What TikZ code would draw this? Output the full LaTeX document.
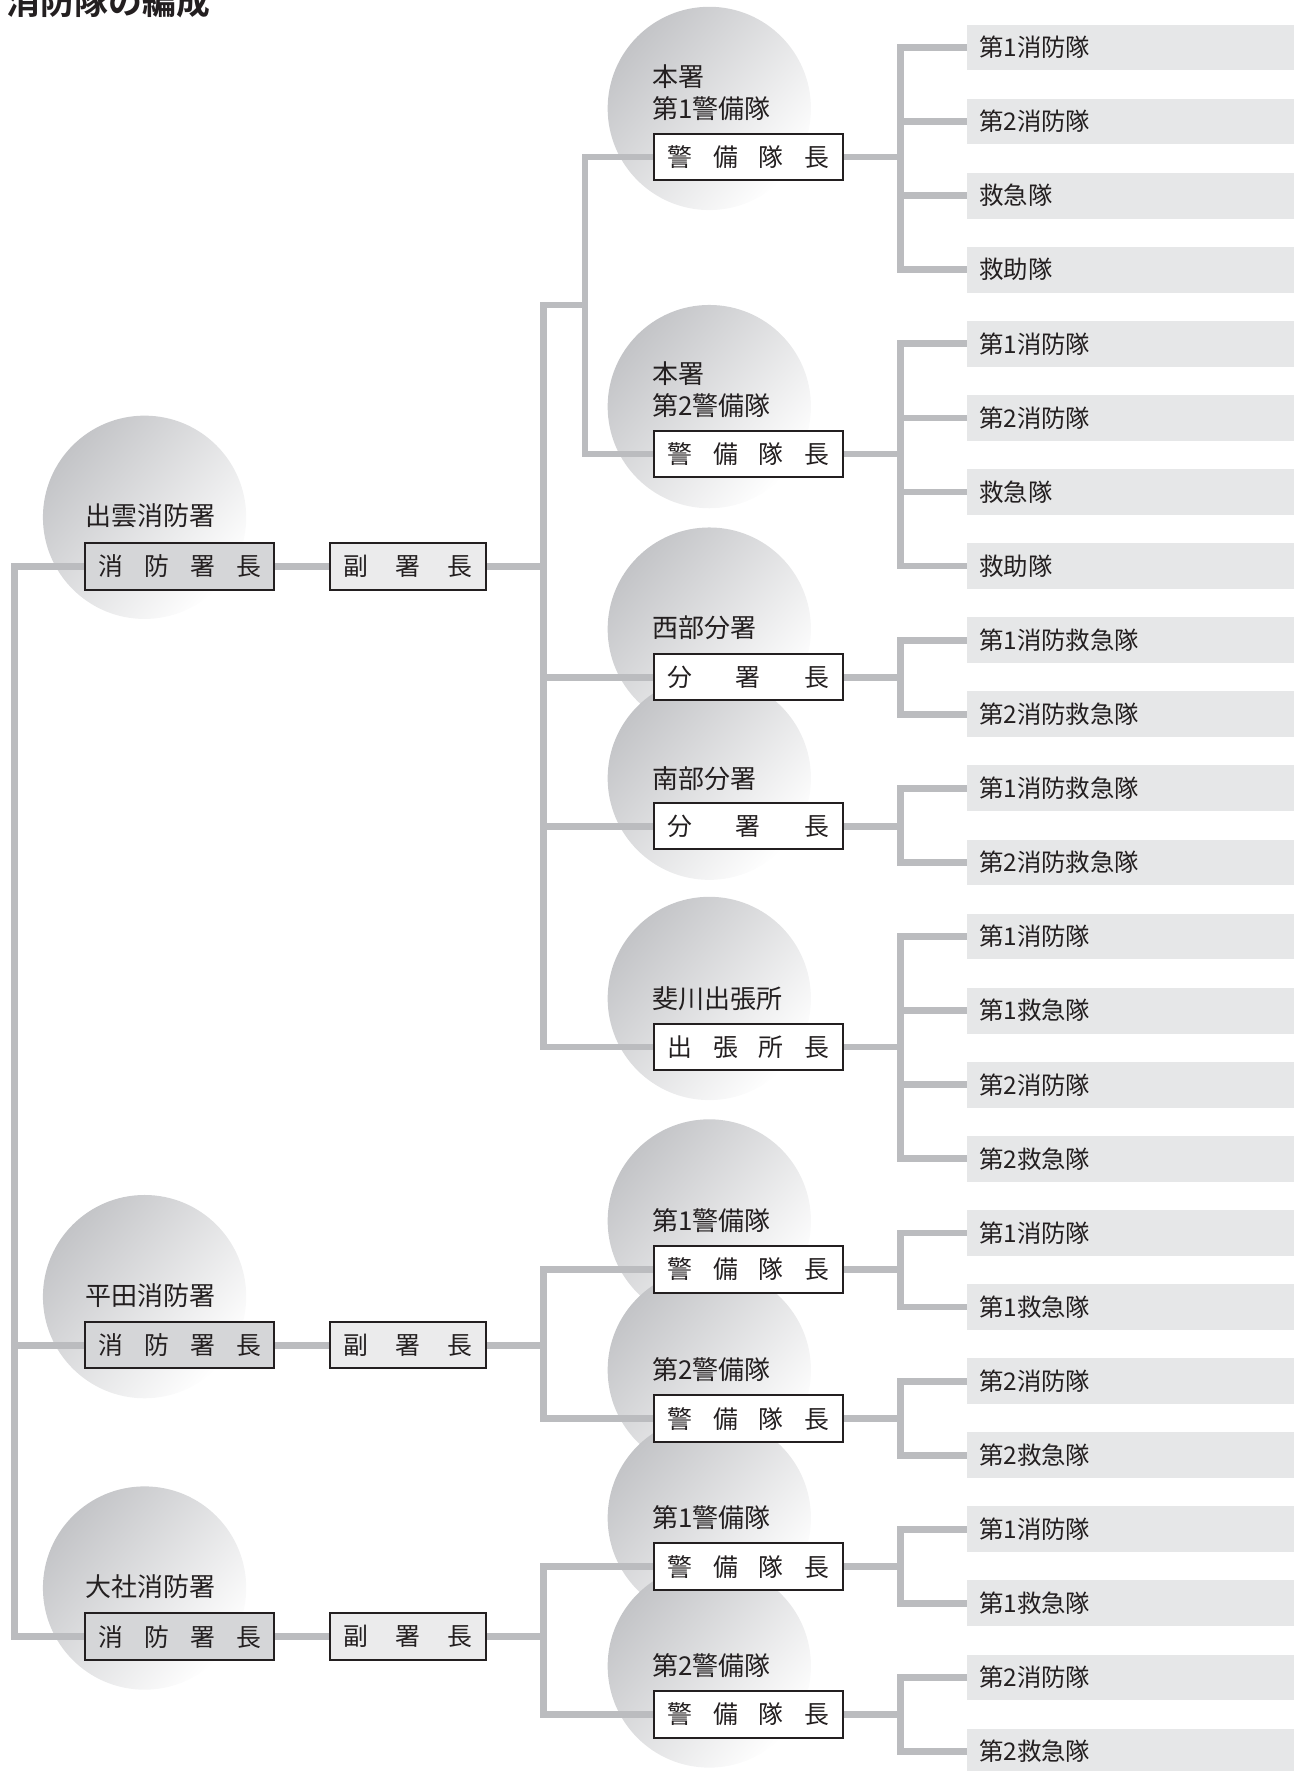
\documentclass[tikz,border=0pt]{standalone}
\usepackage{fontspec}
\setmainfont{Noto Sans CJK JP}[BoldFont={Noto Sans CJK JP Bold}]
\usetikzlibrary{positioning}

\definecolor{ink}{HTML}{231F20}
\definecolor{wire}{HTML}{BBBCBF}
\definecolor{discgray}{HTML}{C3C4C7}
\definecolor{bossfill}{HTML}{D5D6D8}
\definecolor{deputyfill}{HTML}{EBEBEC}
\definecolor{unitfill}{HTML}{E6E7E8}

\pgfdeclarelayer{discs}
\pgfdeclarelayer{wires}
\pgfsetlayers{discs,wires,main}

\tikzset{
  link/.style={draw=wire, line width=3pt, line cap=rect},
  disc/.style={top color=discgray, bottom color=white, shading angle=50},
  tag/.style={anchor=west, inner sep=0pt, text=ink, font=\fontsize{11.5pt}{14pt}\selectfont},
  post/.style={draw=ink, line width=0.9pt, fill=white, text=ink, minimum height=20.5pt,
    inner xsep=6pt, inner ysep=0pt, text width=71.5pt, font=\fontsize{11pt}{12pt}\selectfont},
  boss/.style={post, fill=bossfill, text width=72pt},
  deputy/.style={post, fill=deputyfill, text width=57pt},
  unit/.style={fill=unitfill, text=ink, minimum height=20.3pt, inner xsep=5.5pt, inner ysep=0pt,
    text width=134pt, align=left, font=\fontsize{10.8pt}{12pt}\selectfont},
}

\begin{document}
\begin{tikzpicture}[x=0.5pt, y=-0.5pt]
  \useasboundingbox (0,0) rectangle (1149,1568);

  \node[anchor=base west, inner sep=0pt, text=ink, font=\bfseries\fontsize{15pt}{18pt}\selectfont]
    (title) at (5.5,12.5) {消防隊の編成};

  % stations
  \node[tag] (izumotag) at (75,457) {出雲消防署};
  \node[boss] (izumo) at (159,501.5) {消\hfill 防\hfill 署\hfill 長};
  \node[deputy] (izumodep) at (361,501.5) {副\hfill 署\hfill 長};

  \node[tag] (hiratatag) at (75,1147) {平田消防署};
  \node[boss] (hirata) at (159,1191) {消\hfill 防\hfill 署\hfill 長};
  \node[deputy] (hiratadep) at (361,1191) {副\hfill 署\hfill 長};

  \node[tag] (taishatag) at (75,1405) {大社消防署};
  \node[boss] (taisha) at (159,1449) {消\hfill 防\hfill 署\hfill 長};
  \node[deputy] (taishadep) at (361,1449) {副\hfill 署\hfill 長};

  % squads
  \node[tag, align=left] (hon1tag) at (577,82) {本署\\第1警備隊};
  \node[post] (hon1) at (662.5,139) {警\hfill 備\hfill 隊\hfill 長};
  \node[tag, align=left] (hon2tag) at (577,345) {本署\\第2警備隊};
  \node[post] (hon2) at (662.5,402) {警\hfill 備\hfill 隊\hfill 長};
  \node[tag] (seibutag) at (577,556) {西部分署};
  \node[post] (seibu) at (662.5,599.5) {分\hfill 署\hfill 長};
  \node[tag] (nanbutag) at (577,689) {南部分署};
  \node[post] (nanbu) at (662.5,731.5) {分\hfill 署\hfill 長};
  \node[tag] (hikawatag) at (577,884) {斐川出張所};
  \node[post] (hikawa) at (662.5,927) {出\hfill 張\hfill 所\hfill 長};
  \node[tag] (hira1tag) at (577,1081) {第1警備隊};
  \node[post] (hira1) at (662.5,1124) {警\hfill 備\hfill 隊\hfill 長};
  \node[tag] (hira2tag) at (577,1213) {第2警備隊};
  \node[post] (hira2) at (662.5,1256) {警\hfill 備\hfill 隊\hfill 長};
  \node[tag] (tai1tag) at (577,1344) {第1警備隊};
  \node[post] (tai1) at (662.5,1387) {警\hfill 備\hfill 隊\hfill 長};
  \node[tag] (tai2tag) at (577,1475) {第2警備隊};
  \node[post] (tai2) at (662.5,1518) {警\hfill 備\hfill 隊\hfill 長};

  % units
  \foreach \txt [count=\i] in {第1消防隊, 第2消防隊, 救急隊, 救助隊,
      第1消防隊, 第2消防隊, 救急隊, 救助隊,
      第1消防救急隊, 第2消防救急隊, 第1消防救急隊, 第2消防救急隊,
      第1消防隊, 第1救急隊, 第2消防隊, 第2救急隊,
      第1消防隊, 第1救急隊, 第2消防隊, 第2救急隊,
      第1消防隊, 第1救急隊, 第2消防隊, 第2救急隊}
    \node[unit] (k\i) at (1001,{42+65.6*(\i-1)}) {\txt};

  \coordinate (trunk) at (13,0);
  \coordinate (bus) at (481,0);
  \coordinate (fork) at (518,270);
  \coordinate (spine) at (797,0);

  \begin{pgfonlayer}{discs}
    \foreach \cx/\cy in {128/458, 128/1148, 128/1406, 628/96, 628/360, 628/557, 628/689,
        628/884, 628/1081, 628/1213, 628/1344, 628/1475}
      \shade[disc] (\cx,\cy) circle[radius=45pt];
  \end{pgfonlayer}

  \begin{pgfonlayer}{wires}
    \draw[link] (izumo.west) -- (izumo.west -| trunk) -- (taisha.west -| trunk) -- (taisha.west);
    \draw[link] (hirata.west) -- (hirata.west -| trunk);
    \foreach \a/\b in {izumo/izumodep, hirata/hiratadep, taisha/taishadep}
      \draw[link] (\a) -- (\b);

    \draw[link] (izumodep.east) -- (izumodep.east -| bus);
    \draw[link] (fork -| bus) -- (fork);
    \draw[link] (hon1.west) -| (fork) |- (hon2.west);
    \draw[link] (fork -| bus) |- (hikawa.west);
    \draw[link] (seibu.west) -- (seibu.west -| bus);
    \draw[link] (nanbu.west) -- (nanbu.west -| bus);

    \draw[link] (hiratadep.east) -- (hiratadep.east -| bus);
    \draw[link] (hira1.west) -| (bus |- hira2) -- (hira2.west);
    \draw[link] (taishadep.east) -- (taishadep.east -| bus);
    \draw[link] (tai1.west) -| (bus |- tai2) -- (tai2.west);

    \foreach \boss/\a/\b in {hon1/1/4, hon2/5/8, seibu/9/10, nanbu/11/12, hikawa/13/16,
        hira1/17/18, hira2/19/20, tai1/21/22, tai2/23/24} {
      \draw[link] (k\a.west) -| (spine |- k\b) -- (k\b.west);
      \draw[link] (\boss.east) -- (\boss.east -| spine);
    }
    \foreach \i in {2,3,6,7,14,15}
      \draw[link] (k\i.west) -- (k\i.west -| spine);
  \end{pgfonlayer}
\end{tikzpicture}
\end{document}
